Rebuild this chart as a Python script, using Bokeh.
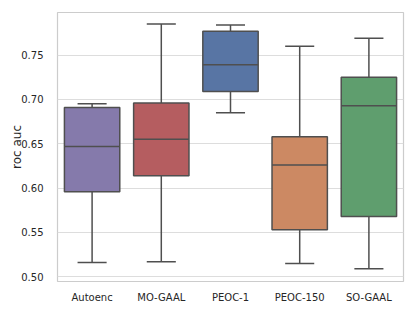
from bokeh.plotting import figure
from bokeh.models import ColumnDataSource, FixedTicker, NumeralTickFormatter, Range1d
from bokeh.transform import dodge
from bokeh.embed import file_html
from bokeh.resources import INLINE

categories = ["Autoenc", "MO-GAAL", "PEOC-1", "PEOC-150", "SO-GAAL"]
lower = [0.516, 0.517, 0.685, 0.515, 0.509]
q1 = [0.596, 0.614, 0.709, 0.553, 0.568]
median = [0.647, 0.655, 0.739, 0.626, 0.693]
q3 = [0.691, 0.696, 0.777, 0.658, 0.725]
upper = [0.695, 0.785, 0.784, 0.760, 0.769]
colors = ["#857aab", "#b55d60", "#5875a4", "#cc8963", "#5f9e6e"]
y_ticks = [0.50, 0.55, 0.60, 0.65, 0.70, 0.75]

src = ColumnDataSource(dict(cat=categories, lower=lower, q1=q1, median=median,
                            q3=q3, upper=upper, color=colors))

p = figure(x_range=categories, y_range=Range1d(0.4947, 0.798),
           width=410, height=305, output_backend="svg", toolbar_location=None,
           min_border_left=57, min_border_right=7, min_border_top=12, min_border_bottom=24)

line_col = "#4f4f4f"
# whiskers
p.segment(x0="cat", y0="q3", x1="cat", y1="upper", source=src, line_color=line_col, line_width=1.5)
p.segment(x0="cat", y0="q1", x1="cat", y1="lower", source=src, line_color=line_col, line_width=1.5)
# caps
p.segment(x0=dodge("cat", -0.21, range=p.x_range), y0="upper",
          x1=dodge("cat", 0.21, range=p.x_range), y1="upper",
          source=src, line_color=line_col, line_width=1.5)
p.segment(x0=dodge("cat", -0.21, range=p.x_range), y0="lower",
          x1=dodge("cat", 0.21, range=p.x_range), y1="lower",
          source=src, line_color=line_col, line_width=1.5)
# boxes
p.vbar(x="cat", bottom="q1", top="q3", width=0.8, source=src,
       fill_color="color", line_color=line_col, line_width=1.5)
# medians
p.segment(x0=dodge("cat", -0.4, range=p.x_range), y0="median",
          x1=dodge("cat", 0.4, range=p.x_range), y1="median",
          source=src, line_color=line_col, line_width=1.5)

p.xgrid.grid_line_color = None
p.ygrid.grid_line_color = "#dddddd"
p.ygrid.grid_line_width = 1
p.ygrid.level = "underlay"
p.outline_line_color = "#cccccc"
p.outline_line_width = 1.2

p.yaxis.ticker = FixedTicker(ticks=y_ticks)
p.yaxis.formatter = NumeralTickFormatter(format="0.00")
p.yaxis.axis_label = "roc auc"

for ax in (p.xaxis[0], p.yaxis[0]):
    ax.axis_line_color = None
    ax.major_tick_line_color = None
    ax.minor_tick_line_color = None
    ax.major_label_text_font = "DejaVu Sans"
    ax.major_label_text_font_size = "10px"
    ax.major_label_text_color = "#262626"
    ax.axis_label_text_font = "DejaVu Sans"
    ax.axis_label_text_font_size = "12px"
    ax.axis_label_text_font_style = "normal"
    ax.axis_label_text_color = "#262626"
p.xaxis.major_label_standoff = 4
p.yaxis.major_label_standoff = 8
p.yaxis.axis_label_standoff = -6

open("out.html", "w").write(file_html(p, INLINE))
